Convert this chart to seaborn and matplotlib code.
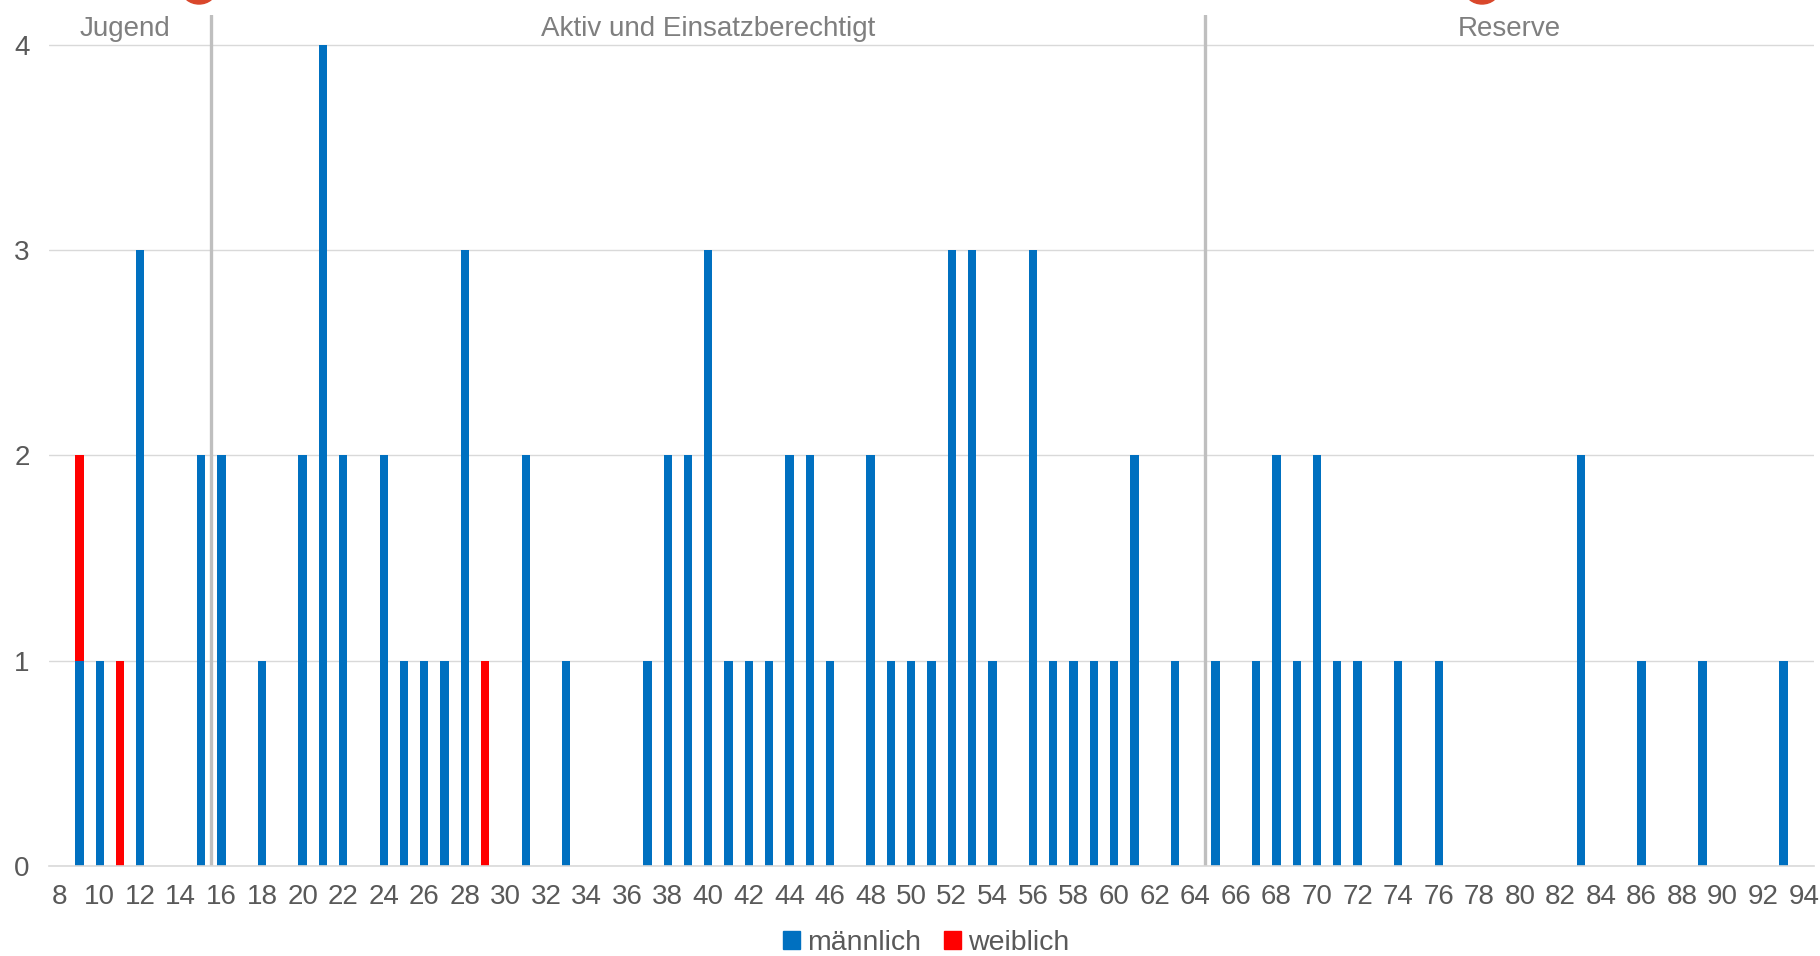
import pandas as pd
import matplotlib.pyplot as plt
import seaborn as sns
from matplotlib.patches import Ellipse, Patch

# ages (x categories) and number of members per age
ages = list(range(8, 95))
ages_m = [9, 10, 12, 15, 16, 18, 20, 21, 22, 24, 25, 26, 27, 28, 31, 33,
          37, 38, 39, 40, 41, 42, 43, 44, 45, 46, 48, 49, 50, 51, 52, 53, 54,
          56, 57, 58, 59, 60, 61, 63, 65, 67, 68, 69, 70, 71, 72, 74, 76,
          83, 86, 89, 93]
count_m = [1, 1, 3, 2, 2, 1, 2, 4, 2, 2, 1, 1, 1, 3, 2, 1,
           1, 2, 2, 3, 1, 1, 1, 2, 2, 1, 2, 1, 1, 1, 3, 3, 1,
           3, 1, 1, 1, 1, 2, 1, 1, 1, 2, 1, 2, 1, 1, 1, 1,
           2, 1, 1, 1]
ages_w = [9, 11, 29]
count_w = [1, 1, 1]

sections = ["Jugend", "Aktiv und Einsatzberechtigt", "Reserve"]
section_bounds = [7.5, 15.5, 64.5, 94.5]

BLUE = "#0070C0"
RED = "#FF0000"

sns.set_theme(style="white")
plt.rcParams['font.family'] = ['Liberation Sans', 'DejaVu Sans']

df = pd.DataFrame({"age": ages})
df["m"] = df["age"].map(dict(zip(ages_m, count_m))).fillna(0)
df["w"] = df["age"].map(dict(zip(ages_w, count_w))).fillna(0)
df["total"] = df["m"] + df["w"]
df["label"] = df["age"].astype(str)
order = df["label"].tolist()

fig = plt.figure(figsize=(18.2, 9.56), dpi=100)
ax = fig.add_axes([49 / 1820, 1 - 866 / 956, (1814 - 49) / 1820, (866 - 15) / 956])

# stacked: female on top of male -> draw total in red, then male in blue
sns.barplot(data=df, x="label", y="total", order=order, color=RED, width=0.41,
            linewidth=0, saturation=1, ax=ax)
sns.barplot(data=df, x="label", y="m", order=order, color=BLUE, width=0.41,
            linewidth=0, saturation=1, ax=ax)

ax.set_xlim(-0.5, len(ages) - 0.5)
ax.set_ylim(0, 4.146)
ax.set_yticks([0, 1, 2, 3, 4])
ax.set_xticks(range(0, len(ages), 2))
ax.set_xticklabels([str(a) for a in ages[::2]])
ax.yaxis.grid(True, color="#d9d9d9", linewidth=1.0)
ax.set_axisbelow(True)
for s in ["top", "right", "left"]:
    ax.spines[s].set_visible(False)
ax.spines["bottom"].set_color("#d9d9d9")
ax.spines["bottom"].set_linewidth(1.2)
ax.tick_params(axis="both", length=0, labelsize=20, labelcolor="#595959")
ax.tick_params(axis="x", pad=13)
ax.tick_params(axis="y", pad=14)
ax.set_xlabel("")
ax.set_ylabel("")

# section dividers and labels (age -> category index)
for b in section_bounds[1:-1]:
    ax.axvline(b - ages[0], color="#bfbfbf", linewidth=2.4, zorder=1)
for name, lo, hi in zip(sections, section_bounds[:-1], section_bounds[1:]):
    ax.text((lo + hi) / 2 - ages[0] - (0.25 if name == "Jugend" else 0), 4.043, name,
            ha="center", va="baseline", fontsize=20, color="#7f7f7f")

# partly visible marks cut off at the top edge
for cx in [199, 1482]:
    fig.add_artist(Ellipse((cx / 1820, 1 + 10 / 956), 34 / 1820, 28 / 956,
                           transform=fig.transFigure, color="#d9472b", clip_on=False))

handles = [Patch(color=BLUE, label="männlich"), Patch(color=RED, label="weiblich")]
fig.legend(handles=handles, loc="center", bbox_to_anchor=(0.509, 1 - 943 / 956),
           ncol=2, frameon=False, fontsize=20.5, handlelength=0.6, handleheight=0.6,
           handletextpad=0.25, columnspacing=0.8, labelcolor="#595959",
           borderpad=0.1)

fig.savefig("out.png", dpi=100)
